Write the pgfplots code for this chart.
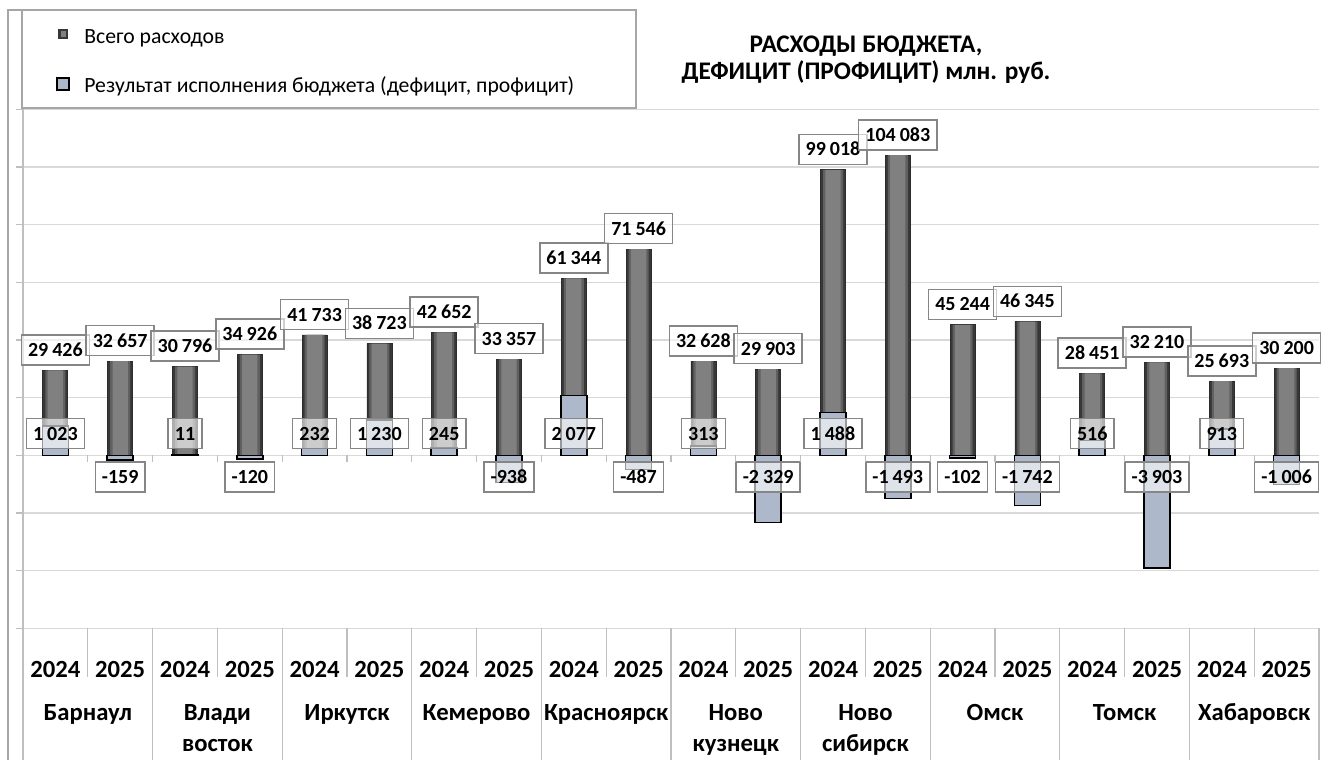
\documentclass[border=0pt]{standalone}
\usepackage{pgfplots}
\pgfplotsset{compat=1.18}
\usepackage{pgfplotstable}
\usepackage{fontspec}
\setmainfont{Carlito}

\definecolor{gridc}{HTML}{D9D9D9}
\definecolor{axc}{HTML}{BFBFBF}
\definecolor{framec}{HTML}{A6A6A6}
\definecolor{lblbord}{HTML}{868686}
\definecolor{barlight}{HTML}{ADB9CA}
\definecolor{baredge}{HTML}{383838}
\definecolor{barsoft}{HTML}{606060}
\definecolor{barmid}{HTML}{808080}

\tikzset{lbl/.style={draw=lblbord, line width=1.1pt, fill=white, fill opacity=0.6, text opacity=1,
    font=\bfseries\fontsize{15}{18}\selectfont, inner xsep=5pt, inner ysep=0pt,
    minimum height=22.5pt, text height=9.7pt, text depth=0pt}}
\newcommand\numfmt[1]{\pgfmathprintnumber[fixed, precision=0, 1000 sep={\hspace{0.2em}}, assume math mode=true]{#1}}
\newcommand\fl{\rule{0pt}{14pt}}

% total expenditures, mln rub
\pgfplotstableread{
x  y
0  29426
1  32657
2  30796
3  34926
4  41733
5  38723
6  42652
7  33357
8  61344
9  71546
10 32628
11 29903
12 99018
13 104083
14 45244
15 46345
16 28451
17 32210
18 25693
19 30200
}\spend
% budget result (deficit -, surplus +)
\pgfplotstableread{
x  y
0  1023
1  -159
2  11
3  -120
4  232
5  1230
6  245
7  -938
8  2077
9  -487
10 313
11 -2329
12 1488
13 -1493
14 -102
15 -1742
16 516
17 -3903
18 913
19 -1006
}\result

\begin{document}
\begin{tikzpicture}
\begin{scope}[x=0.75pt, y=-0.75pt]
\path[use as bounding box] (0,0) rectangle (1332,764);
\end{scope}

% primary axis: total expenditures
\begin{axis}[
  at={(17.25pt,-471.225pt)}, anchor=south west,
  scale only axis, width=972pt, height=389.25pt,
  xmin=-0.5, xmax=19.5, ymin=-60000, ymax=120000,
  enlargelimits=false, clip=false, scaled y ticks=false,
  axis y line*=left, axis x line*=bottom,
  y axis line style={axc, line width=1.5pt},
  x axis line style={draw=none},
  ytick={-60000,-40000,...,120000}, yticklabels={},
  ymajorgrids, grid style={gridc, line width=1.1pt},
  ytick style={axc, line width=1pt}, tick align=outside, major tick length=5.25pt,
  xtick={0,...,19},
  xticklabels={2024,2025,2024,2025,2024,2025,2024,2025,2024,2025,2024,2025,2024,2025,2024,2025,2024,2025,2024,2025},
  xtick style={draw=none},
  xticklabel style={font=\bfseries\fontsize{18.5}{20}\selectfont, anchor=center, yshift=-25.5pt},
  extra x ticks={0.5,2.5,...,18.5},
  extra x tick labels={\fl Барнаул,{\fl Влади\\восток},\fl Иркутск,\fl Кемерово,\fl Красноярск,{\fl Ново\\кузнецк},{\fl Ново\\сибирск},\fl Омск,\fl Томск,\fl Хабаровск},
  extra x tick style={major tick length=0pt, xticklabel style={font=\bfseries\fontsize{18.5}{23.25}\selectfont, align=center, anchor=north, inner sep=0pt, yshift=-29.3pt}},
]
\addplot[ybar, bar width=18.75pt, fill=baredge, draw=baredge!80!black, line width=0.6pt] table[x=x, y=y] {\spend};
\addplot[ybar, bar width=15pt, fill=barsoft, draw=none] table[x=x, y=y] {\spend};
\addplot[ybar, bar width=11.5pt, fill=barmid, draw=none,
  nodes near coords={\numfmt{\pgfplotspointmeta}},
  every node near coord/.append style={lbl, anchor=south, yshift=3.5pt}] table[x=x, y=y] {\spend};
\end{axis}

% secondary axis: budget result (deficit / surplus)
\begin{axis}[
  at={(17.25pt,-471.225pt)}, anchor=south west,
  scale only axis, width=972pt, height=389.25pt,
  xmin=-0.5, xmax=19.5, ymin=-6000, ymax=12000,
  enlargelimits=false, clip=false, hide axis,
]
\addplot[ybar, bar width=19.5pt, fill=barlight, draw=black, line width=1.2pt] table[x=x, y=y] {\result};
\addplot[draw=none, point meta=explicit,
  nodes near coords={\numfmt{\pgfplotspointmeta}},
  every node near coord/.append style={lbl, anchor=south, yshift=4.5pt}]
  coordinates {(0,0)[1023] (2,0)[11] (4,0)[232] (5,0)[1230] (6,0)[245] (8,0)[2077] (10,0)[313] (12,0)[1488] (16,0)[516] (18,0)[913]};
\addplot[draw=none, point meta=explicit,
  nodes near coords={\numfmt{\pgfplotspointmeta}},
  every node near coord/.append style={lbl, anchor=north, yshift=-4.5pt}]
  coordinates {(1,0)[-159] (3,0)[-120] (7,0)[-938] (9,0)[-487] (11,0)[-2329] (13,0)[-1493] (14,0)[-102] (15,0)[-1742] (17,0)[-3903] (19,0)[-1006]};
\end{axis}

\begin{scope}[x=0.75pt, y=-0.75pt]
% frame and legend box
\draw[framec, line width=1.1pt] (8,760) -- (8,10) -- (636,10) -- (636,108) -- (22,108) -- (22,10);
% axis continuation and category separators
\draw[axc, line width=1.5pt] (23,628) -- (23,760);
\foreach \k in {1,3,...,19} \draw[axc, line width=1pt] ({23+64.8*\k},628.3) -- ({23+64.8*\k},677);
\foreach \k in {2,4,...,20} \draw[axc, line width=1pt] ({23+64.8*\k},628.3) -- ({23+64.8*\k},760);
\foreach \k in {1,...,19} \draw[axc, line width=1pt] ({23+64.8*\k},455.3) -- ({23+64.8*\k},462);
% legend
\fill[baredge] (58,29) rectangle (68,39);
\fill[barmid] (60.5,31) rectangle (65.5,37);
\draw[fill=barlight, draw=black, line width=1.2pt] (57,78) rectangle (69,90);
\node[anchor=base west, inner sep=0pt, font=\fontsize{16.3}{19}\selectfont] at (84,43) {Всего расходов};
\node[anchor=base west, inner sep=0pt, font=\fontsize{16.3}{19}\selectfont] at (84,92) {Результат исполнения бюджета (дефицит, профицит)};
% title
\node[anchor=base, inner sep=0pt, font=\bfseries\fontsize{19}{22}\selectfont] at (866,52) {РАСХОДЫ БЮДЖЕТА,};
\node[anchor=base, inner sep=0pt, font=\bfseries\fontsize{19}{22}\selectfont] at (866,79) {ДЕФИЦИТ (ПРОФИЦИТ) млн. руб.};
\end{scope}
\end{tikzpicture}
\end{document}
